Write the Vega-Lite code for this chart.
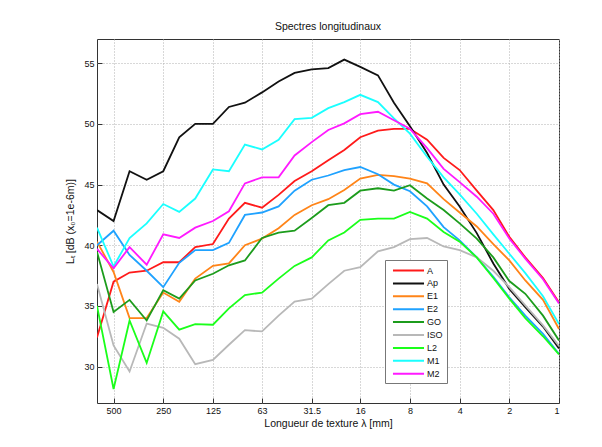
{
  "$schema": "https://vega.github.io/schema/vega-lite/v6.json",
  "width": 462,
  "height": 364,
  "autosize": "none",
  "padding": {"left": 97, "top": 39, "right": 43, "bottom": 44},
  "background": "white",
  "title": {"text": "Spectres longitudinaux", "fontSize": 10.5, "font": "Liberation Sans", "fontWeight": "normal", "color": "#111", "offset": 7},
  "data": {"values": [
    {"s":"A","f":630,"v":32.4},{"s":"A","f":500,"v":37.0},{"s":"A","f":400,"v":37.75},{"s":"A","f":315,"v":37.9},{"s":"A","f":250,"v":38.6},{"s":"A","f":200,"v":38.6},{"s":"A","f":160,"v":39.85},{"s":"A","f":125,"v":40.1},{"s":"A","f":100,"v":42.2},{"s":"A","f":80,"v":43.5},{"s":"A","f":63,"v":43.1},{"s":"A","f":50,"v":44.15},{"s":"A","f":40,"v":45.3},{"s":"A","f":31.5,"v":46.1},{"s":"A","f":25,"v":47.0},{"s":"A","f":20,"v":47.85},{"s":"A","f":16,"v":48.9},{"s":"A","f":12.5,"v":49.45},{"s":"A","f":10,"v":49.6},{"s":"A","f":8,"v":49.6},{"s":"A","f":6.3,"v":48.7},{"s":"A","f":5,"v":47.2},{"s":"A","f":4,"v":46.2},{"s":"A","f":3.15,"v":44.5},{"s":"A","f":2.5,"v":42.9},{"s":"A","f":2,"v":40.7},{"s":"A","f":1.6,"v":39.0},{"s":"A","f":1.25,"v":37.3},{"s":"A","f":1,"v":35.3},
    {"s":"Ap","f":630,"v":42.9},{"s":"Ap","f":500,"v":42.0},{"s":"Ap","f":400,"v":46.1},{"s":"Ap","f":315,"v":45.4},{"s":"Ap","f":250,"v":46.1},{"s":"Ap","f":200,"v":48.9},{"s":"Ap","f":160,"v":50.0},{"s":"Ap","f":125,"v":50.0},{"s":"Ap","f":100,"v":51.4},{"s":"Ap","f":80,"v":51.75},{"s":"Ap","f":63,"v":52.6},{"s":"Ap","f":50,"v":53.5},{"s":"Ap","f":40,"v":54.2},{"s":"Ap","f":31.5,"v":54.5},{"s":"Ap","f":25,"v":54.6},{"s":"Ap","f":20,"v":55.3},{"s":"Ap","f":16,"v":54.7},{"s":"Ap","f":12.5,"v":54.0},{"s":"Ap","f":10,"v":51.75},{"s":"Ap","f":8,"v":49.8},{"s":"Ap","f":6.3,"v":47.6},{"s":"Ap","f":5,"v":45.0},{"s":"Ap","f":4,"v":43.2},{"s":"Ap","f":3.15,"v":41.0},{"s":"Ap","f":2.5,"v":38.5},{"s":"Ap","f":2,"v":36.4},{"s":"Ap","f":1.6,"v":34.9},{"s":"Ap","f":1.25,"v":33.3},{"s":"Ap","f":1,"v":31.5},
    {"s":"E1","f":630,"v":40.3},{"s":"E1","f":500,"v":37.8},{"s":"E1","f":400,"v":34.0},{"s":"E1","f":315,"v":34.0},{"s":"E1","f":250,"v":36.1},{"s":"E1","f":200,"v":35.35},{"s":"E1","f":160,"v":37.25},{"s":"E1","f":125,"v":38.3},{"s":"E1","f":100,"v":38.5},{"s":"E1","f":80,"v":40.0},{"s":"E1","f":63,"v":40.55},{"s":"E1","f":50,"v":41.4},{"s":"E1","f":40,"v":42.5},{"s":"E1","f":31.5,"v":43.3},{"s":"E1","f":25,"v":43.8},{"s":"E1","f":20,"v":44.55},{"s":"E1","f":16,"v":45.5},{"s":"E1","f":12.5,"v":45.8},{"s":"E1","f":10,"v":45.7},{"s":"E1","f":8,"v":45.5},{"s":"E1","f":6.3,"v":45.1},{"s":"E1","f":5,"v":43.8},{"s":"E1","f":4,"v":42.7},{"s":"E1","f":3.15,"v":41.55},{"s":"E1","f":2.5,"v":40.1},{"s":"E1","f":2,"v":38.75},{"s":"E1","f":1.6,"v":37.1},{"s":"E1","f":1.25,"v":35.5},{"s":"E1","f":1,"v":33.1},
    {"s":"E2","f":630,"v":40.0},{"s":"E2","f":500,"v":41.2},{"s":"E2","f":400,"v":39.2},{"s":"E2","f":315,"v":37.9},{"s":"E2","f":250,"v":36.55},{"s":"E2","f":200,"v":38.55},{"s":"E2","f":160,"v":39.6},{"s":"E2","f":125,"v":39.6},{"s":"E2","f":100,"v":40.2},{"s":"E2","f":80,"v":42.5},{"s":"E2","f":63,"v":42.7},{"s":"E2","f":50,"v":43.2},{"s":"E2","f":40,"v":44.5},{"s":"E2","f":31.5,"v":45.4},{"s":"E2","f":25,"v":45.75},{"s":"E2","f":20,"v":46.2},{"s":"E2","f":16,"v":46.45},{"s":"E2","f":12.5,"v":45.85},{"s":"E2","f":10,"v":45.0},{"s":"E2","f":8,"v":44.45},{"s":"E2","f":6.3,"v":43.2},{"s":"E2","f":5,"v":41.5},{"s":"E2","f":4,"v":40.4},{"s":"E2","f":3.15,"v":39.0},{"s":"E2","f":2.5,"v":37.4},{"s":"E2","f":2,"v":35.7},{"s":"E2","f":1.6,"v":34.2},{"s":"E2","f":1.25,"v":32.7},{"s":"E2","f":1,"v":31.05},
    {"s":"GO","f":630,"v":39.45},{"s":"GO","f":500,"v":34.5},{"s":"GO","f":400,"v":35.5},{"s":"GO","f":315,"v":33.8},{"s":"GO","f":250,"v":36.3},{"s":"GO","f":200,"v":35.6},{"s":"GO","f":160,"v":37.1},{"s":"GO","f":125,"v":37.65},{"s":"GO","f":100,"v":38.35},{"s":"GO","f":80,"v":38.75},{"s":"GO","f":63,"v":40.6},{"s":"GO","f":50,"v":41.05},{"s":"GO","f":40,"v":41.2},{"s":"GO","f":31.5,"v":42.25},{"s":"GO","f":25,"v":43.3},{"s":"GO","f":20,"v":43.5},{"s":"GO","f":16,"v":44.5},{"s":"GO","f":12.5,"v":44.7},{"s":"GO","f":10,"v":44.5},{"s":"GO","f":8,"v":44.95},{"s":"GO","f":6.3,"v":43.85},{"s":"GO","f":5,"v":42.9},{"s":"GO","f":4,"v":41.8},{"s":"GO","f":3.15,"v":40.55},{"s":"GO","f":2.5,"v":39.0},{"s":"GO","f":2,"v":37.05},{"s":"GO","f":1.6,"v":36.0},{"s":"GO","f":1.25,"v":34.2},{"s":"GO","f":1,"v":32.15},
    {"s":"ISO","f":630,"v":36.8},{"s":"ISO","f":500,"v":31.75},{"s":"ISO","f":400,"v":29.6},{"s":"ISO","f":315,"v":33.55},{"s":"ISO","f":250,"v":33.2},{"s":"ISO","f":200,"v":32.3},{"s":"ISO","f":160,"v":30.2},{"s":"ISO","f":125,"v":30.55},{"s":"ISO","f":100,"v":31.8},{"s":"ISO","f":80,"v":33.0},{"s":"ISO","f":63,"v":32.9},{"s":"ISO","f":50,"v":34.2},{"s":"ISO","f":40,"v":35.35},{"s":"ISO","f":31.5,"v":35.6},{"s":"ISO","f":25,"v":36.8},{"s":"ISO","f":20,"v":37.9},{"s":"ISO","f":16,"v":38.2},{"s":"ISO","f":12.5,"v":39.5},{"s":"ISO","f":10,"v":39.85},{"s":"ISO","f":8,"v":40.5},{"s":"ISO","f":6.3,"v":40.6},{"s":"ISO","f":5,"v":39.9},{"s":"ISO","f":4,"v":39.6},{"s":"ISO","f":3.15,"v":39.0},{"s":"ISO","f":2.5,"v":37.9},{"s":"ISO","f":2,"v":36.55},{"s":"ISO","f":1.6,"v":35.05},{"s":"ISO","f":1.25,"v":33.4},{"s":"ISO","f":1,"v":31.7},
    {"s":"L2","f":630,"v":35.0},{"s":"L2","f":500,"v":28.15},{"s":"L2","f":400,"v":33.8},{"s":"L2","f":315,"v":30.3},{"s":"L2","f":250,"v":34.55},{"s":"L2","f":200,"v":33.05},{"s":"L2","f":160,"v":33.5},{"s":"L2","f":125,"v":33.45},{"s":"L2","f":100,"v":34.8},{"s":"L2","f":80,"v":35.9},{"s":"L2","f":63,"v":36.1},{"s":"L2","f":50,"v":37.25},{"s":"L2","f":40,"v":38.3},{"s":"L2","f":31.5,"v":39.0},{"s":"L2","f":25,"v":40.4},{"s":"L2","f":20,"v":41.05},{"s":"L2","f":16,"v":42.1},{"s":"L2","f":12.5,"v":42.2},{"s":"L2","f":10,"v":42.2},{"s":"L2","f":8,"v":42.75},{"s":"L2","f":6.3,"v":42.2},{"s":"L2","f":5,"v":41.1},{"s":"L2","f":4,"v":40.3},{"s":"L2","f":3.15,"v":39.0},{"s":"L2","f":2.5,"v":37.3},{"s":"L2","f":2,"v":35.6},{"s":"L2","f":1.6,"v":34.0},{"s":"L2","f":1.25,"v":32.5},{"s":"L2","f":1,"v":31.0},
    {"s":"M1","f":630,"v":41.45},{"s":"M1","f":500,"v":38.25},{"s":"M1","f":400,"v":40.6},{"s":"M1","f":315,"v":41.8},{"s":"M1","f":250,"v":43.4},{"s":"M1","f":200,"v":42.75},{"s":"M1","f":160,"v":43.85},{"s":"M1","f":125,"v":46.25},{"s":"M1","f":100,"v":46.1},{"s":"M1","f":80,"v":48.3},{"s":"M1","f":63,"v":47.9},{"s":"M1","f":50,"v":48.7},{"s":"M1","f":40,"v":50.4},{"s":"M1","f":31.5,"v":50.5},{"s":"M1","f":25,"v":51.3},{"s":"M1","f":20,"v":51.8},{"s":"M1","f":16,"v":52.4},{"s":"M1","f":12.5,"v":51.8},{"s":"M1","f":10,"v":50.45},{"s":"M1","f":8,"v":49.2},{"s":"M1","f":6.3,"v":47.3},{"s":"M1","f":5,"v":45.6},{"s":"M1","f":4,"v":44.2},{"s":"M1","f":3.15,"v":42.6},{"s":"M1","f":2.5,"v":40.9},{"s":"M1","f":2,"v":39.3},{"s":"M1","f":1.6,"v":37.7},{"s":"M1","f":1.25,"v":35.8},{"s":"M1","f":1,"v":33.5},
    {"s":"M2","f":630,"v":39.7},{"s":"M2","f":500,"v":38.1},{"s":"M2","f":400,"v":39.85},{"s":"M2","f":315,"v":38.4},{"s":"M2","f":250,"v":40.9},{"s":"M2","f":200,"v":40.6},{"s":"M2","f":160,"v":41.45},{"s":"M2","f":125,"v":42.0},{"s":"M2","f":100,"v":42.8},{"s":"M2","f":80,"v":45.1},{"s":"M2","f":63,"v":45.6},{"s":"M2","f":50,"v":45.6},{"s":"M2","f":40,"v":47.4},{"s":"M2","f":31.5,"v":48.5},{"s":"M2","f":25,"v":49.5},{"s":"M2","f":20,"v":50.05},{"s":"M2","f":16,"v":50.8},{"s":"M2","f":12.5,"v":51.0},{"s":"M2","f":10,"v":50.3},{"s":"M2","f":8,"v":49.6},{"s":"M2","f":6.3,"v":48.0},{"s":"M2","f":5,"v":46.3},{"s":"M2","f":4,"v":45.2},{"s":"M2","f":3.15,"v":44.0},{"s":"M2","f":2.5,"v":42.6},{"s":"M2","f":2,"v":40.55},{"s":"M2","f":1.6,"v":38.9},{"s":"M2","f":1.25,"v":37.2},{"s":"M2","f":1,"v":35.2}
  ]},
  "mark": {"type": "line", "strokeWidth": 1.8, "clip": true},
  "encoding": {
    "x": {
      "field": "f", "type": "quantitative", "sort": null,
      "scale": {"type": "log", "domain": [630, 1], "nice": false},
      "axis": {
        "values": [500, 250, 125, 63, 31.5, 16, 8, 4, 2, 1],
        "labelExpr": "'' + datum.value",
        "title": "Longueur de texture λ [mm]",
        "titlePadding": 3
      }
    },
    "y": {
      "field": "v", "type": "quantitative",
      "scale": {"domain": [27, 57], "nice": false, "zero": false},
      "axis": {
        "values": [30, 35, 40, 45, 50, 55],
        "title": "Lₜ  [dB (x₀=1e-6m)]",
        "titlePadding": 8
      }
    },
    "color": {
      "field": "s", "type": "nominal",
      "scale": {
        "domain": ["A", "Ap", "E1", "E2", "GO", "ISO", "L2", "M1", "M2"],
        "range": ["#ff1a1a", "#111111", "#ff8418", "#1fa2ff", "#1c9c1c", "#b8b8b8", "#1aff1a", "#1affff", "#ff1aff"]
      },
      "legend": {
        "orient": "none", "legendX": 288, "legendY": 221,
        "title": null,
        "symbolType": "M-3,0H3", "symbolSize": 107, "symbolStrokeWidth": 2,
        "symbolOffset": 13,
        "labelFont": "Liberation Sans", "labelFontSize": 9, "labelColor": "#111",
        "strokeColor": "#777", "fillColor": "white", "padding": 4,
        "rowPadding": 0.9, "labelOffset": 12
      }
    }
  },
  "config": {
    "view": {"stroke": "#333", "strokeWidth": 1},
    "axis": {
      "domain": false,
      "ticks": true, "tickSize": -5, "tickColor": "#333",
      "grid": true, "gridColor": "#b0b0b0", "gridDash": [1, 2], "gridWidth": 1,
      "labelFont": "Liberation Sans", "labelFontSize": 9, "labelColor": "#111",
      "labelPadding": 8,
      "titleFont": "Liberation Sans", "titleFontSize": 10.5, "titleFontWeight": "normal", "titleColor": "#111"
    }
  }
}
